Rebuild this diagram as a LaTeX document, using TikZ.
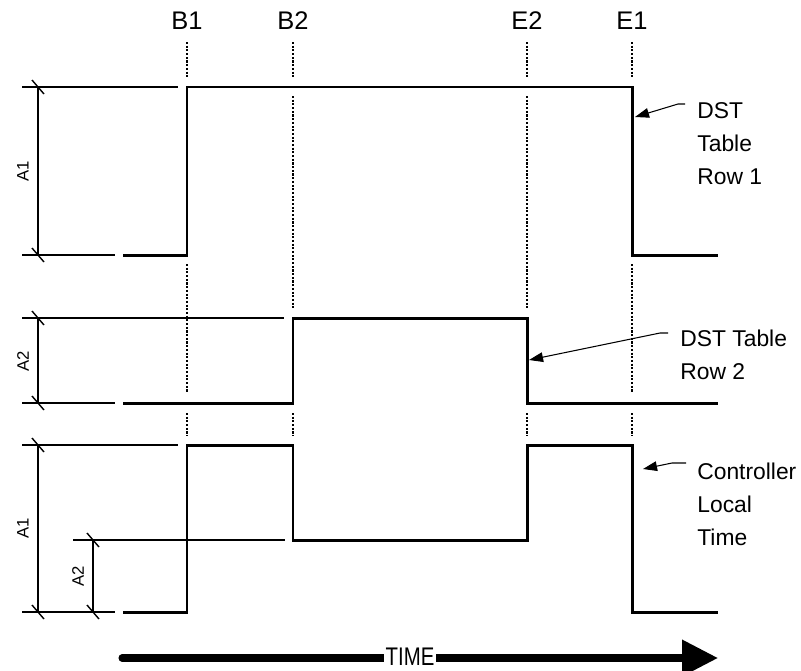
\documentclass[tikz,border=0pt]{standalone}
\usepackage{fontspec}
\setmainfont{Liberation Sans}
\usepackage{tikz}
\usetikzlibrary{arrows.meta, calc}

\begin{document}
\begin{tikzpicture}[
    x=0.02cm, y=-0.02cm,
    wave/.style={line width=1.7pt, line join=miter},
    extline/.style={line width=0.8pt},
    guide/.style={line width=0.7pt, dash pattern=on 1.2pt off 0.9pt},
    timemark/.style={font=\fontsize{14.5}{16}\selectfont, anchor=base, inner sep=0pt},
    amp/.style={font=\fontsize{9.5}{11}\selectfont, rotate=90, inner sep=0pt},
    note/.style={font=\fontsize{13}{18.8}\selectfont, align=left, anchor=north west, inner sep=0pt},
    leader/.style={line width=0.6pt, -{Triangle[length=8pt, width=5.5pt]}},
    timeaxis/.style={line width=4pt, line cap=round, -{Triangle[length=0.72cm, width=0.7cm]}}
]
    \useasboundingbox (0,0) rectangle (801,670);

    % time marks
    \node[timemark] (b1) at (187,29) {B1};
    \node[timemark] (b2) at (293,29) {B2};
    \node[timemark] (e2) at (527,29) {E2};
    \node[timemark] (e1) at (632,29) {E1};

    % dotted guides
    \foreach \x in {187,293,527,632} {
        \draw[guide] (\x,42) -- (\x,78);
        \draw[guide] (\x,413) -- (\x,436);
    }
    \foreach \x/\a/\b in {187/264/393, 293/96/308, 527/96/308, 632/264/393}
        \draw[guide] (\x,\a) -- (\x,\b);

    % waveforms
    \draw[wave] (123,255) -- (187,255) -- (187,87) -- (632,87) -- (632,255) -- (718,255);
    \draw[wave] (123,403) -- (293,403) -- (293,318) -- (527,318) -- (527,403) -- (718,403);
    \draw[wave] (123,612) -- (187,612) -- (187,445) -- (293,445) -- (293,540)
        -- (527,540) -- (527,445) -- (632,445) -- (632,612) -- (718,612);

    % dimensions
    \foreach \a/\b/\y in {22/178/87, 22/115/255, 22/284/318, 22/115/403, 22/178/445, 73/285/540, 22/115/612}
        \draw[extline] (\a,\y) -- (\b,\y);
    \foreach \x/\a/\b in {38/87/255, 38/318/403, 38/445/612, 93/540/612} {
        \draw[extline] (\x,\a) -- (\x,\b);
        \draw[extline] (\x-6,\a-7) -- (\x+6,\a+7);
        \draw[extline] (\x-6,\b-7) -- (\x+6,\b+7);
    }
    \node[amp] (a1top) at (23,171) {A1};
    \node[amp] (a2mid) at (23,361) {A2};
    \node[amp] (a1bot) at (23,528) {A1};
    \node[amp] (a2bot) at (78,576) {A2};

    % notes
    \node[note] (row1) at (697,102) {DST\\Table\\Row 1};
    \node[note] (row2) at (680,330) {DST Table\\Row 2};
    \node[note] (local) at (697,463) {Controller\\Local\\Time};
    \coordinate (row1tip) at (635,117);
    \coordinate (row2tip) at (529,360);
    \coordinate (localtip) at (643,469);
    \draw[leader] ($(row1.north west)+(-12,2)$) -- ++(-7,0) -- (row1tip);
    \draw[leader] ($(row2.north west)+(-12,3)$) -- ++(-8,0) -- (row2tip);
    \draw[leader] ($(local.north west)+(-11,0)$) -- ++(-14,0) -- (localtip);

    % time axis
    \coordinate (tstart) at (122,658);
    \coordinate (tend) at (718,658);
    \draw[timeaxis] (tstart) -- (tend);
    \node[fill=white, inner xsep=1pt, inner ysep=0pt, xscale=0.8, font=\fontsize{14.5}{16}\selectfont] (time) at (410,657) {TIME};
\end{tikzpicture}
\end{document}
